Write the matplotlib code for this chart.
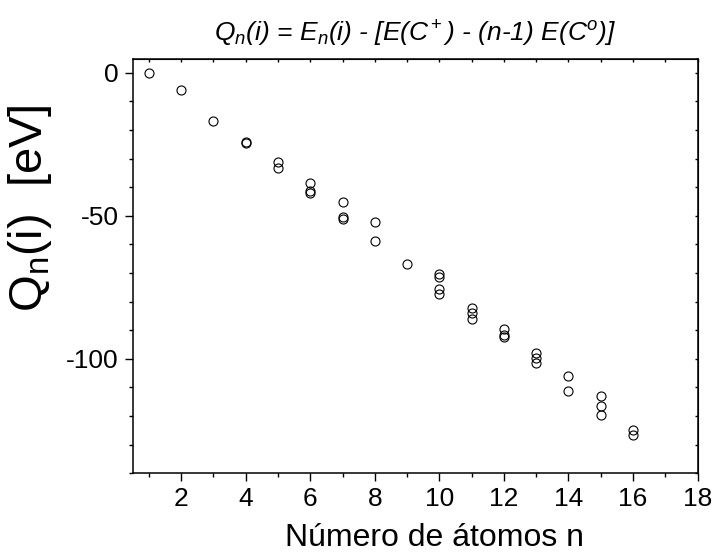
import matplotlib
matplotlib.use("Agg")
from matplotlib import pyplot as plt
from matplotlib.ticker import MultipleLocator

# número de átomos n y valores Q_n(i) [eV]
n_atoms = [1, 2, 3, 4, 4,
           5, 5, 6, 6, 6,
           7, 7, 7, 8, 8, 9,
           10, 10, 10, 10, 11, 11, 11,
           12, 12, 12, 13, 13, 13,
           14, 14, 15, 15, 15, 16, 16]
q_values = [0.0, -6.0, -16.8, -24.1, -24.5,
            -31.3, -33.4, -38.6, -41.3, -41.9,
            -45.0, -50.5, -51.1, -52.1, -58.9, -66.8,
            -70.3, -71.4, -75.5, -77.3, -82.3, -84.0, -86.0,
            -89.6, -91.6, -92.5, -98.0, -99.7, -101.5,
            -105.9, -111.1, -113.1, -116.4, -119.5, -124.8, -126.6]

x_ticks = [2, 4, 6, 8, 10, 12, 14, 16, 18]
y_ticks = [0, -50, -100]
y_tick_labels = ['0', '-50', '-100']

plt.rcParams['font.family'] = ['Liberation Sans', 'DejaVu Sans']
plt.rcParams['mathtext.fontset'] = 'custom'
plt.rcParams['mathtext.rm'] = 'Liberation Sans'
plt.rcParams['mathtext.it'] = 'Liberation Sans:italic'

fig = plt.figure(figsize=(7.14, 5.58), dpi=100)
ax = fig.add_axes([0.186, 0.152, 0.791, 0.743])

ax.plot(n_atoms, q_values, 'o', mfc='none', mec='black', ms=6.5, mew=0.8)

ax.set_xlim(0.5, 18)
ax.set_ylim(-140, 5)
ax.set_xticks(x_ticks)
ax.set_yticks(y_ticks)
ax.set_yticklabels(y_tick_labels)
ax.xaxis.set_minor_locator(MultipleLocator(1))
ax.yaxis.set_minor_locator(MultipleLocator(10))
ax.tick_params(which='major', direction='out', length=6, width=1, labelsize=19, pad=4)
ax.tick_params(which='minor', direction='out', length=3, width=1)
for s in ax.spines.values():
    s.set_linewidth(1.1)

# marcas interiores en los ejes superior y derecho
top = ax.secondary_xaxis('top')
top.xaxis.set_major_locator(MultipleLocator(1))
top.tick_params(direction='in', length=2, width=1, labeltop=False)
right = ax.secondary_yaxis('right')
right.yaxis.set_major_locator(MultipleLocator(10))
right.tick_params(direction='in', length=2, width=1, labelright=False)

ax.set_xlabel('Número de átomos n', fontsize=23)
ax.xaxis.set_label_coords(0.535, -0.12)
ax.set_ylabel(r'Q$_\mathregular{n}$(i)  [eV]', fontsize=34)
ax.yaxis.set_label_coords(-0.14, 0.64)
ax.set_title(r'Q$_n$(i) = E$_n$(i) - [E(C$^+$) - (n-1) E(C$^o$)]',
             fontsize=19, fontstyle='italic', pad=12)

plt.savefig('out.png', dpi=100)
